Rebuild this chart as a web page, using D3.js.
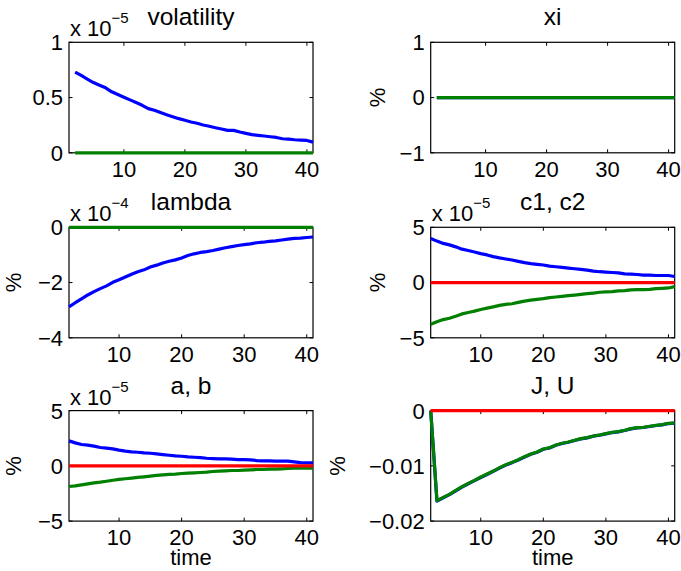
<!DOCTYPE html>
<html>
<head>
<meta charset="utf-8">
<script src="https://cdn.jsdelivr.net/npm/d3@7"></script>
<style>
  body { margin: 0; background: #fff; }
  text { font-family: "Liberation Sans", Arial, Helvetica, sans-serif; fill: #000; }
</style>
</head>
<body>
<svg width="681" height="571"></svg>
<script>
// time steps shown in every panel
const steps = [2,3,4,5,6,7,8,9,10,11,12,13,14,15,16,17,18,19,20,21,
               22,23,24,25,26,27,28,29,30,31,32,33,34,35,36,37,38,39,40,41];
const xTicks = [10, 20, 30, 40];

// flat lines
const zeros = [0,0,0,0,0,0,0,0,0,0,0,0,0,0,0,0,0,0,0,0,
               0,0,0,0,0,0,0,0,0,0,0,0,0,0,0,0,0,0,0,0];

// volatility (x 1e-5)
const volBlue = [0.73,0.70,0.667,0.636,0.612,0.588,0.552,0.527,0.503,0.479,
                 0.455,0.43,0.40,0.385,0.364,0.345,0.327,0.309,0.294,0.279,
                 0.267,0.252,0.24,0.227,0.215,0.203,0.203,0.188,0.176,0.164,
                 0.158,0.152,0.145,0.139,0.127,0.124,0.118,0.115,0.112,0.097];

// lambda (x 1e-4)
const lambdaBlue = [-2.88,-2.73,-2.59,-2.45,-2.33,-2.22,-2.12,-1.99,-1.90,-1.80,
                    -1.70,-1.61,-1.54,-1.44,-1.37,-1.29,-1.23,-1.18,-1.11,-1.02,
                    -0.96,-0.91,-0.88,-0.84,-0.79,-0.74,-0.70,-0.66,-0.63,-0.60,
                    -0.56,-0.54,-0.51,-0.49,-0.46,-0.43,-0.40,-0.39,-0.37,-0.35];

// c1, c2 (x 1e-5)
const c1 = [3.99,3.75,3.54,3.41,3.23,3.02,2.90,2.77,2.62,2.50,
            2.35,2.23,2.13,2.04,1.92,1.80,1.71,1.65,1.59,1.49,
            1.43,1.37,1.31,1.25,1.19,1.13,1.04,0.98,0.95,0.91,
            0.88,0.79,0.76,0.73,0.67,0.67,0.64,0.64,0.64,0.55];
const c2 = [-3.78,-3.54,-3.35,-3.23,-3.05,-2.84,-2.71,-2.59,-2.44,-2.32,
            -2.20,-2.07,-1.98,-1.92,-1.80,-1.68,-1.59,-1.52,-1.46,-1.37,
            -1.31,-1.25,-1.19,-1.13,-1.07,-1.01,-0.95,-0.88,-0.85,-0.82,
            -0.76,-0.73,-0.67,-0.64,-0.64,-0.61,-0.55,-0.52,-0.49,-0.37];

// a, b (x 1e-5)
const aSeries = [2.26,2.08,1.93,1.87,1.78,1.66,1.60,1.54,1.42,1.33,
                 1.27,1.23,1.17,1.14,1.08,1.02,0.96,0.90,0.87,0.81,
                 0.78,0.75,0.69,0.66,0.63,0.63,0.60,0.57,0.57,0.54,
                 0.48,0.45,0.45,0.42,0.42,0.42,0.36,0.30,0.27,0.27];
const bSeries = [-1.87,-1.81,-1.72,-1.63,-1.54,-1.48,-1.39,-1.30,-1.23,-1.17,
                 -1.11,-1.05,-0.99,-0.93,-0.87,-0.81,-0.78,-0.75,-0.69,-0.66,
                 -0.63,-0.60,-0.57,-0.51,-0.48,-0.45,-0.42,-0.42,-0.39,-0.36,
                 -0.33,-0.33,-0.30,-0.30,-0.27,-0.24,-0.21,-0.21,-0.21,-0.21];

// J, U
const juBlue = [0,-0.01638,-0.01578,-0.01522,-0.01452,-0.01385,-0.01324,-0.01268,-0.01210,-0.01156,
                -0.01100,-0.01040,-0.00986,-0.00942,-0.00894,-0.00840,-0.00790,-0.00754,-0.00700,-0.00676,
                -0.00627,-0.00596,-0.00572,-0.00542,-0.00512,-0.00493,-0.00463,-0.00445,-0.00421,-0.00397,
                -0.00385,-0.00360,-0.00330,-0.00312,-0.00306,-0.00288,-0.00270,-0.00258,-0.00234,-0.00228];
const juGreen = [0,-0.01631,-0.01571,-0.01517,-0.01444,-0.01378,-0.01317,-0.01263,-0.01202,-0.01148,
                 -0.01094,-0.01033,-0.00979,-0.00937,-0.00888,-0.00834,-0.00785,-0.00749,-0.00695,-0.00671,
                 -0.00622,-0.00592,-0.00568,-0.00538,-0.00508,-0.00489,-0.00459,-0.00441,-0.00417,-0.00393,
                 -0.00381,-0.00356,-0.00326,-0.00308,-0.00302,-0.00284,-0.00266,-0.00254,-0.00230,-0.00224];

const BLUE = "#0000ff", GREEN = "#008000", RED = "#ff0000";

// panel layout (matlab style subplots)
const colX = [69, 430.7];
const rowY = [42.3, 227.3, 410.6];
const W = 244, H = 110.5;

const panels = [
  { col: 0, row: 0, title: "volatility", xmin: 1, ydom: [0, 1], yTicks: [0, 0.5, 1], exp: "−5", ylabel: null,
    series: [[volBlue, BLUE], [zeros, GREEN]] },
  { col: 1, row: 0, title: "xi", xmin: 1, ydom: [-1, 1], yTicks: [-1, 0, 1], exp: null, ylabel: -53,
    series: [[zeros, BLUE], [zeros, GREEN]] },
  { col: 0, row: 1, title: "lambda", xmin: 2, ydom: [-4, 0], yTicks: [-4, -2, 0], exp: "−4", ylabel: -55,
    series: [[lambdaBlue, BLUE], [zeros, GREEN]] },
  { col: 1, row: 1, title: "c1, c2", xmin: 2, ydom: [-5, 5], yTicks: [-5, 0, 5], exp: "−5", ylabel: -53,
    series: [[c1, BLUE], [c2, GREEN], [zeros, RED]] },
  { col: 0, row: 2, title: "a, b", xmin: 2, ydom: [-5, 5], yTicks: [-5, 0, 5], exp: "−5", ylabel: -55, xlabel: true,
    series: [[aSeries, BLUE], [bSeries, GREEN], [zeros, RED]] },
  { col: 1, row: 2, title: "J, U", xmin: 2, ydom: [-0.02, 0], yTicks: [-0.02, -0.01, 0], exp: null, ylabel: -93, xlabel: true,
    series: [[juBlue, BLUE], [juGreen, GREEN], [zeros, RED]] }
];

const svg = d3.select("svg");
const fmt = v => (v < 0 ? "\u2212" : "") + String(Math.abs(v));

panels.forEach(function(p) {
  const g = svg.append("g")
    .attr("transform", "translate(" + colX[p.col] + "," + rowY[p.row] + ")");

  const x = d3.scaleLinear().domain([p.xmin, 41]).range([0, W]);
  const y = d3.scaleLinear().domain(p.ydom).range([H, 0]);

  // axes box
  g.append("rect")
    .attr("width", W).attr("height", H)
    .attr("fill", "none").attr("stroke", "#000").attr("stroke-width", 1.2);

  // inward ticks on all four sides
  const tl = 3.5;
  xTicks.forEach(function(t) {
    g.append("line").attr("x1", x(t)).attr("x2", x(t)).attr("y1", H).attr("y2", H - tl)
      .attr("stroke", "#000");
    g.append("line").attr("x1", x(t)).attr("x2", x(t)).attr("y1", 0).attr("y2", tl)
      .attr("stroke", "#000");
    g.append("text").attr("x", x(t)).attr("y", H + 24)
      .attr("text-anchor", "middle").style("font-size", "22px").text(t);
  });
  p.yTicks.forEach(function(t) {
    g.append("line").attr("x1", 0).attr("x2", tl).attr("y1", y(t)).attr("y2", y(t))
      .attr("stroke", "#000");
    g.append("line").attr("x1", W).attr("x2", W - tl).attr("y1", y(t)).attr("y2", y(t))
      .attr("stroke", "#000");
    g.append("text").attr("x", -6).attr("y", y(t)).attr("dy", "0.36em")
      .attr("text-anchor", "end").style("font-size", "22px").text(fmt(t));
  });

  // lines
  const line = d3.line().x((d, i) => x(steps[i])).y(d => y(d));
  p.series.forEach(function(s) {
    g.append("path")
      .datum(s[0])
      .attr("fill", "none")
      .attr("stroke", s[1])
      .attr("stroke-width", 3.2)
      .attr("stroke-linejoin", "round")
      .attr("d", line);
  });

  // title
  g.append("text").attr("x", W / 2).attr("y", -17)
    .attr("text-anchor", "middle").style("font-size", "24.5px").text(p.title);

  // exponent multiplier
  if (p.exp) {
    const e = g.append("text").attr("x", 1).attr("y", -6).style("font-size", "22px");
    e.append("tspan").text("x 10");
    e.append("tspan").attr("dy", -13).style("font-size", "15px").text(p.exp);
  }

  if (p.ylabel !== null) {
    g.append("text")
      .attr("transform", "translate(" + (p.ylabel + 7) + "," + (H / 2) + ") rotate(-90)")
      .attr("text-anchor", "middle").style("font-size", "22px").text("%");
  }
  if (p.xlabel) {
    g.append("text").attr("x", W / 2).attr("y", H + 44)
      .attr("text-anchor", "middle").style("font-size", "22px").text("time");
  }
});
</script>
</body>
</html>
